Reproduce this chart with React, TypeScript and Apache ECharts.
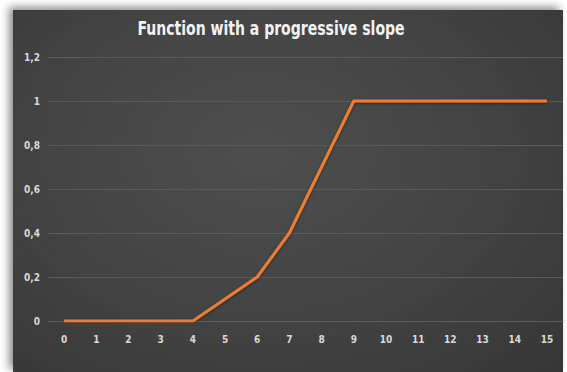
import React, { useEffect, useRef } from "react";
import * as echarts from "echarts";

const categories: string[] = ["0", "1", "2", "3", "4", "5", "6", "7", "8", "9", "10", "11", "12", "13", "14", "15"];
const values: number[] = [0, 0, 0, 0, 0, 0.1, 0.2, 0.4, 0.7, 1, 1, 1, 1, 1, 1, 1];
const titleText = "Function with a progressive slope";

export default function App() {
  const ref = useRef<HTMLDivElement>(null);
  useEffect(() => {
    if (!ref.current) return;
    const chart = echarts.init(ref.current, undefined, { renderer: "svg" });
    const labelFont = "'Liberation Sans Narrow', 'DejaVu Sans Condensed', 'Open Sans', sans-serif";
    chart.setOption({
      animation: false,
      backgroundColor: "transparent",
      graphic: [
        {
          type: "text",
          x: 271,
          y: 28,
          scaleX: 0.78,
          scaleY: 1,
          style: {
            text: titleText,
            fill: "#f2f2f2",
            fontSize: 20,
            fontWeight: "bold",
            fontFamily: "'DejaVu Sans Condensed', 'DejaVu Sans', sans-serif",
            textAlign: "center",
            textVerticalAlign: "middle",
          },
        },
      ],
      grid: { left: 48, right: 4, top: 57, bottom: 51, containLabel: false },
      xAxis: {
        type: "category",
        data: categories,
        boundaryGap: true,
        axisLine: { show: true, lineStyle: { color: "#5e5e5e", width: 1 } },
        axisTick: { show: false },
        axisLabel: {
          color: "#d9d9d9",
          fontSize: 10,
          fontWeight: "bold",
          fontFamily: labelFont,
          margin: 13,
          interval: 0,
        },
        splitLine: { show: false },
      },
      yAxis: {
        type: "value",
        min: 0,
        max: 1.2,
        interval: 0.2,
        axisLine: { show: false },
        axisTick: { show: false },
        axisLabel: {
          color: "#d9d9d9",
          fontSize: 10,
          fontWeight: "bold",
          fontFamily: labelFont,
          margin: 8,
          formatter: (v: number) => String(Math.round(v * 10) / 10).replace(".", ","),
        },
        splitLine: { show: true, lineStyle: { color: "#5a5a5a", width: 1 } },
      },
      series: [
        {
          type: "line",
          data: values,
          showSymbol: false,
          symbol: "none",
          lineStyle: {
            color: "#ed7d31",
            width: 3,
            shadowColor: "rgba(0,0,0,0.5)",
            shadowBlur: 3,
            shadowOffsetY: 1,
          },
        },
      ],
    });
    return () => chart.dispose();
  }, []);

  return (
    <div style={{ position: "fixed", left: 0, top: 0, width: 567, height: 372, background: "#ffffff", overflow: "hidden" }}>
      <div
        style={{
          position: "absolute",
          left: 13,
          top: 10,
          width: 550,
          height: 362,
          background: "radial-gradient(ellipse at 45% 40%, #4e4e4e 0%, #444444 50%, #363636 100%)",
          boxShadow: "-4px -3px 8px rgba(0,0,0,0.45)",
        }}
      />
      <div ref={ref} style={{ position: "absolute", left: 0, top: 0, width: 567, height: 372 }} />
    </div>
  );
}
